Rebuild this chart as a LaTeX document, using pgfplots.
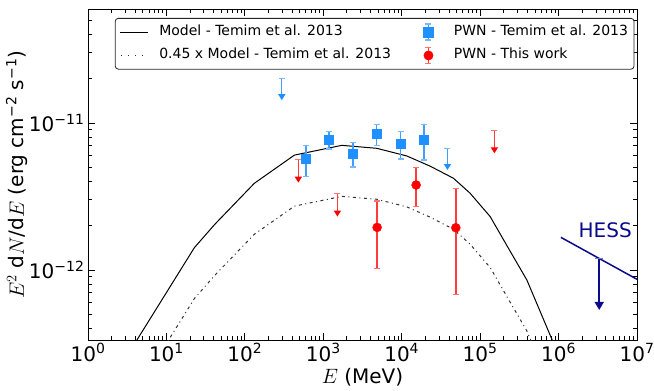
\documentclass[border=0pt]{standalone}
\usepackage{pgfplots}
\usepackage{pgfplotstable}
\pgfplotsset{compat=1.18}
\usepackage{fontspec}
\setmainfont{DejaVu Sans}
\usetikzlibrary{arrows.meta}
\definecolor{dblue}{RGB}{30,144,255}
\definecolor{eblue}{RGB}{65,158,255}
\definecolor{cblue}{RGB}{120,185,255}
\definecolor{ered}{RGB}{255,60,60}
\definecolor{cred}{RGB}{255,115,115}
\definecolor{hess}{RGB}{10,10,140}
\newcommand{\sm}{\symbol{"2212}}

\pgfplotstableread{
x y
1.03 1.0e-13
4.26 3.38e-13
22.7 1.419e-12
41.7 2.056e-12
132 3.89e-12
428 6.05e-12
1722 7.05e-12
4808 6.73e-12
11610 5.97e-12
23010 5.09e-12
45710 4.21e-12
74470 3.33e-12
134300 2.31e-12
229600 1.406e-12
394500 8.55e-13
822200 3.38e-13
2160000 1.0e-13
}\model

\pgfplotstableread{
x y
1.03 4.5e-14
4.26 1.521e-13
22.7 6.39e-13
41.7 9.25e-13
132 1.751e-12
428 2.72e-12
1722 3.17e-12
4808 3.03e-12
11610 2.69e-12
23010 2.29e-12
45710 1.895e-12
74470 1.499e-12
134300 1.040e-12
229600 6.33e-13
394500 3.85e-13
822200 1.521e-13
2160000 4.5e-14
}\modelscaled

\pgfplotstableread{
x y ep em
604 5.69e-12 1.36e-12 1.38e-12
1186 7.66e-12 1.12e-12 1.01e-12
2399 6.15e-12 1.24e-12 1.13e-12
4810 8.46e-12 1.34e-12 1.45e-12
9730 7.23e-12 1.55e-12 1.54e-12
19140 7.69e-12 2.11e-12 2.09e-12
}\temim

\pgfplotstableread{
x y ep em
4858 1.95e-12 0.99e-12 0.93e-12
15270 3.79e-12 1.21e-12 1.09e-12
48980 1.94e-12 1.66e-12 1.256e-12
}\thiswork

\begin{document}
\begin{tikzpicture}
\begin{axis}[name=ax,
  xmode=log, ymode=log, log basis x=10, log basis y=10,
  width=549pt, height=331pt, scale only axis,
  xmin=1, xmax=1e7, ymin=3.342e-13, ymax=5.964e-11,
  xticklabel={10\textsuperscript{\pgfmathparse{int(round(\tick))}\pgfmathresult}},
  yticklabel={10\textsuperscript{\pgfmathparse{int(round(-\tick))}\sm\pgfmathresult}},
  tick label style={font=\fontsize{20}{24}\selectfont},
  label style={font=\fontsize{20}{24}\selectfont},
  xlabel={$E$ (MeV)},
  ylabel={$E^2$ d$N$/d$E$ (erg cm\textsuperscript{\sm2} s\textsuperscript{\sm1})},
  ylabel style={yshift=-6pt},
  major tick length=7pt, minor tick length=4pt,
  every tick/.style={black, line width=0.8pt},
  axis line style={line width=1pt},
  tick align=inside,
  clip mode=individual,
  legend columns=2,
  legend cell align=left,
  legend style={at={(axis description cs:0.049,0.973)}, anchor=north west,
    draw=black!85, line width=0.8pt, rounded corners=3pt,
    font=\fontsize{14}{16}\selectfont,
    nodes={inner sep=2pt, text height=10pt, text depth=3pt},
    row sep=6pt, inner xsep=4pt, inner ysep=5pt,
    /tikz/every odd column/.append style={column sep=9pt},
    /tikz/every even column/.append style={column sep=21pt}},
]
\addplot[black, line width=1pt,
  legend image code/.code={\draw[black, line width=1pt] (0pt,0pt) -- (28pt,0pt);}]
  table[x=x,y=y] {\model};
\addlegendentry{Model - Temim et al. 2013}

\addplot[only marks, mark=square*, mark size=4.5pt, color=dblue,
  legend image code/.code={
    \path (0pt,0pt) (28pt,0pt);
    \draw[sharp corners, eblue, line width=1.4pt] (14pt,-8pt)--(14pt,8pt);
    \draw[sharp corners, cblue, line width=1.4pt] (11pt,-8pt)--(17pt,-8pt) (11pt,8pt)--(17pt,8pt);
    \fill[sharp corners, dblue] (9pt,-5pt) rectangle (19pt,5pt);},
  error bars/y dir=both, error bars/y explicit,
  error bars/error bar style={draw=eblue, line width=1.4pt},
  error bars/error mark options={draw=cblue, line width=1.4pt, mark size=3pt, rotate=90}]
  table[x=x,y=y,y error plus=ep,y error minus=em] {\temim};
\addlegendentry{PWN - Temim et al. 2013}

\addplot[black!80, line width=1pt, dash pattern=on 3pt off 3.5pt on 1pt off 3.5pt,
  legend image code/.code={\draw[black!80, line width=1pt, dash pattern=on 1pt off 6pt] (1pt,0pt) -- (28pt,0pt);}]
  table[x=x,y=y] {\modelscaled};
\addlegendentry{0.45 x Model - Temim et al. 2013}

\addplot[only marks, mark=*, mark size=4.5pt, color=red,
  legend image code/.code={
    \path (0pt,0pt) (28pt,0pt);
    \draw[sharp corners, ered, line width=1.4pt] (14pt,-8pt)--(14pt,8pt);
    \draw[sharp corners, cred, line width=1.4pt] (11pt,-8pt)--(17pt,-8pt) (11pt,8pt)--(17pt,8pt);
    \fill[red] (14pt,0pt) circle (4.5pt);},
  error bars/y dir=both, error bars/y explicit,
  error bars/error bar style={draw=ered, line width=1.4pt},
  error bars/error mark options={draw=cred, line width=1.4pt, mark size=3pt, rotate=90}]
  table[x=x,y=y,y error plus=ep,y error minus=em] {\thiswork};
\addlegendentry{PWN - This work}

% upper limits Temim
\addplot[eblue, line width=1.3pt, mark=-, mark size=3pt, mark indices={1}, mark options={cblue},
  -{Triangle[width=7pt,length=6pt,color=dblue]}, forget plot]
  coordinates {(296,2.01e-11) (296,1.43e-11)};
\addplot[eblue, line width=1.3pt, mark=-, mark size=3pt, mark indices={1}, mark options={cblue},
  -{Triangle[width=7pt,length=6pt,color=dblue]}, forget plot]
  coordinates {(38300,6.73e-12) (38300,4.79e-12)};
% upper limits this work
\addplot[ered, line width=1.3pt, mark=-, mark size=3pt, mark indices={1}, mark options={cred},
  -{Triangle[width=7pt,length=6pt,color=red]}, forget plot]
  coordinates {(481,5.66e-12) (481,3.93e-12)};
\addplot[ered, line width=1.3pt, mark=-, mark size=3pt, mark indices={1}, mark options={cred},
  -{Triangle[width=7pt,length=6pt,color=red]}, forget plot]
  coordinates {(1513,3.33e-12) (1513,2.31e-12)};
\addplot[ered, line width=1.3pt, mark=-, mark size=3pt, mark indices={1}, mark options={cred},
  -{Triangle[width=7pt,length=6pt,color=red]}, forget plot]
  coordinates {(152000,8.87e-12) (152000,6.22e-12)};
% HESS
\addplot[hess, line width=1.5pt, forget plot]
  coordinates {(1.07e6,1.669e-12) (1e7,8.65e-13)};
\addplot[hess, line width=1.5pt, mark=-, mark size=4pt, mark indices={1}, mark options={hess!55!white},
  -{Triangle[width=9pt,length=8pt]}, forget plot]
  coordinates {(3.30e6,1.20e-12) (3.30e6,5.35e-13)};
\node[hess, font=\fontsize{20}{24}\selectfont] at (axis cs:3.93e6,1.87e-12) {HESS};
\end{axis}
\pgfresetboundingbox
\useasboundingbox ([xshift=-88pt,yshift=-50pt]ax.south west) rectangle ([xshift=17pt,yshift=9pt]ax.north east);
\end{tikzpicture}
\end{document}
